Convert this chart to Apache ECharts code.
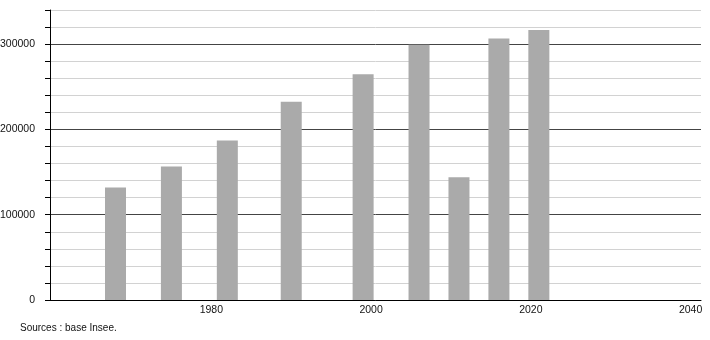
<!DOCTYPE html>
<html>
<head>
<meta charset="utf-8">
<script src="https://cdn.jsdelivr.net/npm/echarts@6/dist/echarts.min.js"></script>
<style>html,body{margin:0;padding:0;background:#fff}#c{width:710px;height:340px}</style>
</head>
<body>
<div id="c"></div>
<script>
const years = [1968, 1975, 1982, 1990, 1999, 2006, 2011, 2016, 2021];
const population = [132000, 156500, 187000, 232500, 264700, 299200, 144000, 306700, 316500];
const xTickLabels = [1980, 2000, 2020, 2040];
const yTickLabels = [0, 100000, 200000, 300000];
const sourceText = 'Sources : base Insee.';

const chart = echarts.init(document.getElementById('c'), null, {renderer: 'canvas'});
const font = "'Liberation Sans', Arial, sans-serif";
chart.setOption({
  animation: false,
  backgroundColor: '#fff',
  grid: {left: 50, right: 9, top: 10, bottom: 40, containLabel: false, outerBoundsMode: 'none'},
  xAxis: {
    type: 'value', min: 1959.8, max: 2041.3,
    axisLine: {show: true, lineStyle: {color: '#000', width: 1}},
    axisTick: {show: false},
    splitLine: {show: false},
    axisLabel: {
      margin: 5, color: '#111', fontSize: 10.5, fontFamily: font,
      customValues: xTickLabels,
      formatter: v => String(v)
    }
  },
  yAxis: {
    type: 'value', min: 0, max: 340000, interval: 20000,
    axisLine: {show: true, lineStyle: {color: '#000', width: 1}},
    axisTick: {show: true, inside: false, length: 5, lineStyle: {color: '#000'}},
    splitLine: {show: true, lineStyle: {color: ['#444', '#d2d2d2', '#d2d2d2', '#d2d2d2', '#d2d2d2'], width: 1}},
    axisLabel: {
      margin: 15, color: '#111', fontSize: 10.5, fontFamily: font,
      formatter: v => yTickLabels.includes(v) ? String(v) : ''
    }
  },
  series: [{
    type: 'bar',
    barWidth: 21,
    itemStyle: {color: '#aaaaaa'},
    data: years.map((y, i) => [y, population[i]])
  }],
  graphic: [{
    type: 'text', left: 20, top: 323,
    style: {text: sourceText, fill: '#111', font: "10px 'Liberation Sans', Arial, sans-serif"}
  }]
});
</script>
</body>
</html>
